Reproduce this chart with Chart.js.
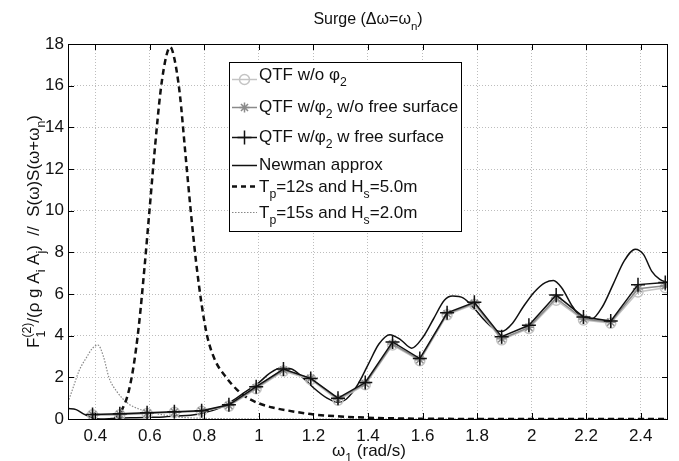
<!DOCTYPE html>
<html>
<head>
<meta charset="utf-8">
<script src="https://cdn.jsdelivr.net/npm/chart.js@4.4.1/dist/chart.umd.min.js"></script>
<style>
  body { margin: 0; background: #fff; }
  canvas { display: block; }
</style>
</head>
<body>
<canvas id="grafico" width="679" height="461"></canvas>
<script>
// --- Datos ---
const xTicks = [0.4, 0.6, 0.8, 1.0, 1.2, 1.4, 1.6, 1.8, 2.0, 2.2, 2.4];
const yTicks = [0, 2, 4, 6, 8, 10, 12, 14, 16, 18];

// frecuencias de los puntos QTF
const w1 = [0.39, 0.49, 0.59, 0.69, 0.79, 0.89, 0.99, 1.09, 1.19, 1.29, 1.39,
            1.49, 1.59, 1.69, 1.79, 1.89, 1.99, 2.09, 2.19, 2.29, 2.39, 2.49];
const qtfSinPhi = [0.2, 0.2, 0.27, 0.32, 0.37, 0.62, 1.45, 2.3, 1.9, 0.9, 1.65,
                   3.55, 2.8, 5.0, 5.5, 3.8, 4.35, 5.7, 4.75, 4.6, 6.1, 6.3];
const qtfPhiSinSup = [0.2, 0.22, 0.28, 0.33, 0.38, 0.65, 1.5, 2.35, 1.95, 0.95, 1.7,
                      3.6, 2.85, 5.05, 5.55, 3.85, 4.4, 5.8, 4.8, 4.65, 6.25, 6.4];
const qtfPhiSup = [0.22, 0.25, 0.3, 0.35, 0.4, 0.68, 1.55, 2.4, 1.95, 1.0, 1.75,
                   3.7, 2.9, 5.1, 5.6, 3.95, 4.5, 5.95, 4.9, 4.7, 6.45, 6.55];

// aproximacion de Newman
const wNewman = [0.30, 0.33, 0.36, 0.39, 0.42, 0.46, 0.50, 0.55, 0.60, 0.65, 0.70, 0.75,
                 0.80, 0.85, 0.90, 0.95, 1.00, 1.04, 1.08, 1.12, 1.16, 1.20, 1.25, 1.29,
                 1.32, 1.36, 1.40, 1.44, 1.48, 1.52, 1.56, 1.60, 1.64, 1.68, 1.71, 1.75,
                 1.79, 1.83, 1.87, 1.89, 1.93, 1.97, 2.01, 2.05, 2.08, 2.11, 2.15, 2.19,
                 2.22, 2.26, 2.30, 2.34, 2.38, 2.41, 2.44, 2.47, 2.50];
const newman = [0.5, 0.45, 0.22, 0.05, 0.0, 0.02, 0.05, 0.06, 0.08, 0.1, 0.14, 0.18,
                0.3, 0.5, 0.85, 1.3, 1.75, 2.2, 2.45, 2.4, 2.0, 1.5, 1.0, 0.8,
                0.95, 1.6, 2.6, 3.6, 4.05, 3.8, 3.4, 3.9, 4.8, 5.7, 5.9, 5.8,
                5.3, 4.7, 4.25, 4.2, 4.6, 5.4, 6.1, 6.55, 6.65, 6.3, 5.4, 4.8,
                4.8, 5.4, 6.5, 7.6, 8.15, 7.9, 7.1, 6.7, 6.55];

// espectro Tp=12s, Hs=5.0m
const wTp12 = [0.47, 0.50, 0.52, 0.54, 0.56, 0.58, 0.60, 0.62, 0.64, 0.66, 0.675, 0.69,
               0.71, 0.73, 0.75, 0.77, 0.79, 0.81, 0.84, 0.88, 0.92, 0.96, 1.00, 1.05,
               1.10, 1.20, 1.30, 1.40, 1.50, 1.60, 1.80, 2.50];
const espTp12 = [0, 0.5, 1.2, 2.5, 4.5, 7.2, 10.2, 13.2, 15.8, 17.4, 17.85, 17.3,
                 15.6, 12.8, 10.0, 7.5, 5.5, 4.0, 2.8, 2.0, 1.4, 1.0, 0.75, 0.55,
                 0.42, 0.22, 0.12, 0.06, 0.03, 0.01, 0.005, 0];

// espectro Tp=15s, Hs=2.0m
const wTp15 = [0.30, 0.32, 0.34, 0.37, 0.39, 0.41, 0.43, 0.45, 0.48, 0.52, 0.56,
               0.61, 0.65, 0.70, 0.80, 0.90, 1.00, 2.50];
const espTp15 = [0.8, 1.55, 2.3, 3.0, 3.4, 3.55, 3.0, 2.0, 1.3, 0.75, 0.48,
                 0.3, 0.2, 0.1, 0.03, 0.01, 0, 0];

const FONT = "'Liberation Sans', Arial, sans-serif";
const pares = (xs, ys) => xs.map((x, i) => ({ x: x, y: ys[i] }));

// --- Texto con subindices / superindices ---
function anchoSeg(ctx, s, size) {
  const small = size * 0.72;
  if (s.t === undefined) {
    ctx.font = small + "px " + FONT;
    return Math.max(s.sub ? ctx.measureText(s.sub).width : 0,
                    s.sup ? ctx.measureText(s.sup).width : 0);
  }
  ctx.font = (s.small ? small : size) + "px " + FONT;
  return ctx.measureText(s.t).width;
}

function textoRico(ctx, segs, x, y, size, align) {
  const small = size * 0.72;
  const lista = segs.map(s => (s.sub === true ? { t: s.t, small: true, dy: size * 0.36 } : s));
  let total = 0;
  lista.forEach(s => { total += anchoSeg(ctx, s, size); });
  let cx = x;
  if (align === "center") cx = x - total / 2;
  ctx.textAlign = "left";
  ctx.textBaseline = "alphabetic";
  lista.forEach(s => {
    const w = anchoSeg(ctx, s, size);
    if (s.t === undefined) {
      ctx.font = small + "px " + FONT;
      if (s.sub) ctx.fillText(s.sub, cx, y + size * 0.36);
      if (s.sup) ctx.fillText(s.sup, cx, y - size * 0.45);
    } else {
      ctx.font = (s.small ? small : size) + "px " + FONT;
      ctx.fillText(s.t, cx, y + (s.dy || 0));
    }
    cx += w;
  });
}

const titulo = [{ t: "Surge (\u0394\u03c9=\u03c9" }, { t: "n", sub: true }, { t: ")" }];
const tituloX = [{ t: "\u03c9" }, { t: "1", sub: true }, { t: " (rad/s)" }];
const tituloY = [{ t: "F" }, { sub: "1", sup: "(2)" }, { t: "/(\u03c1 g A" }, { t: "i", sub: true },
                 { t: " A" }, { t: "j", sub: true }, { t: ")  //  S(\u03c9)S(\u03c9+\u03c9" },
                 { t: "n", sub: true }, { t: ")" }];

const leyenda = [
  { texto: [{ t: "QTF w/o \u03c6" }, { t: "2", sub: true }], base: 80, linea: 79, tipo: "circulo" },
  { texto: [{ t: "QTF w/\u03c6" }, { t: "2", sub: true }, { t: " w/o free surface" }], base: 112, linea: 107, tipo: "estrella" },
  { texto: [{ t: "QTF w/\u03c6" }, { t: "2", sub: true }, { t: " w free surface" }], base: 142, linea: 137, tipo: "cruz" },
  { texto: [{ t: "Newman approx" }], base: 170, linea: 165, tipo: "linea" },
  { texto: [{ t: "T" }, { t: "p", sub: true }, { t: "=12s and H" }, { t: "s", sub: true }, { t: "=5.0m" }], base: 192, linea: 186, tipo: "guiones" },
  { texto: [{ t: "T" }, { t: "p", sub: true }, { t: "=15s and H" }, { t: "s", sub: true }, { t: "=2.0m" }], base: 218, linea: 212, tipo: "puntos" }
];

// --- Plugin: marco, marcas, titulos y leyenda ---
const decoracion = {
  id: "decoracion",
  afterDraw(chart) {
    const ctx = chart.ctx;
    const a = chart.chartArea;
    const sx = chart.scales.x, sy = chart.scales.y;
    ctx.save();
    // marco
    ctx.strokeStyle = "#000";
    ctx.lineWidth = 1;
    ctx.setLineDash([]);
    ctx.strokeRect(a.left + 0.5, a.top + 0.5, a.right - a.left - 1, a.bottom - a.top);
    // marcas hacia adentro
    ctx.beginPath();
    xTicks.forEach(v => {
      const px = Math.round(sx.getPixelForValue(v)) + 0.5;
      ctx.moveTo(px, a.bottom); ctx.lineTo(px, a.bottom - 6);
      ctx.moveTo(px, a.top); ctx.lineTo(px, a.top + 6);
    });
    yTicks.forEach(v => {
      const py = Math.round(sy.getPixelForValue(v)) + 0.5;
      ctx.moveTo(a.left, py); ctx.lineTo(a.left + 6, py);
      ctx.moveTo(a.right, py); ctx.lineTo(a.right - 6, py);
    });
    ctx.stroke();

    ctx.fillStyle = "#111";
    textoRico(ctx, titulo, (a.left + a.right) / 2, 24, 16, "center");
    textoRico(ctx, tituloX, (a.left + a.right) / 2 + 1, 456, 17, "center");
    ctx.save();
    ctx.translate(39, (a.top + a.bottom) / 2);
    ctx.rotate(-Math.PI / 2);
    textoRico(ctx, tituloY, 0, 0, 17, "center");
    ctx.restore();

    // leyenda
    const L = { x: 229, y: 62, w: 232, h: 169 };
    ctx.fillStyle = "#fff";
    ctx.fillRect(L.x, L.y, L.w, L.h);
    ctx.strokeStyle = "#000";
    ctx.lineWidth = 1;
    ctx.strokeRect(L.x + 0.5, L.y + 0.5, L.w, L.h);
    leyenda.forEach(e => {
      const y0 = e.linea + 0.5;
      ctx.save();
      ctx.beginPath();
      ctx.moveTo(232, y0); ctx.lineTo(257, y0);
      if (e.tipo === "circulo") { ctx.strokeStyle = "#c4c4c4"; ctx.lineWidth = 1.5; }
      else if (e.tipo === "estrella") { ctx.strokeStyle = "#8a8a8a"; ctx.lineWidth = 1.5; }
      else if (e.tipo === "guiones") { ctx.strokeStyle = "#111"; ctx.lineWidth = 2.5; ctx.setLineDash([5, 4]); }
      else if (e.tipo === "puntos") { ctx.strokeStyle = "#888"; ctx.lineWidth = 1.2; ctx.setLineDash([1.5, 1.5]); }
      else { ctx.strokeStyle = "#111"; ctx.lineWidth = 1.5; }
      ctx.stroke();
      ctx.setLineDash([]);
      const cx = 244.5;
      if (e.tipo === "circulo") {
        ctx.beginPath(); ctx.arc(cx, y0, 5, 0, Math.PI * 2); ctx.stroke();
      } else if (e.tipo === "estrella") {
        ctx.beginPath();
        for (let k = 0; k < 4; k++) {
          const ang = k * Math.PI / 4;
          ctx.moveTo(cx - 5 * Math.cos(ang), y0 - 5 * Math.sin(ang));
          ctx.lineTo(cx + 5 * Math.cos(ang), y0 + 5 * Math.sin(ang));
        }
        ctx.stroke();
      } else if (e.tipo === "cruz") {
        ctx.beginPath();
        ctx.moveTo(cx - 7, y0); ctx.lineTo(cx + 7, y0);
        ctx.moveTo(cx, y0 - 7); ctx.lineTo(cx, y0 + 7);
        ctx.stroke();
      }
      ctx.restore();
      ctx.fillStyle = "#111";
      textoRico(ctx, e.texto, 259, e.base, 17, "left");
    });
    ctx.restore();
  }
};

const ctx = document.getElementById("grafico").getContext("2d");
new Chart(ctx, {
  type: "line",
  data: {
    datasets: [
      {
        label: "QTF w/phi2 w free surface",
        data: pares(w1, qtfPhiSup),
        borderColor: "#111", backgroundColor: "#111", borderWidth: 1.5,
        pointStyle: "cross", pointRadius: 7, pointBorderWidth: 1.5, tension: 0
      },
      {
        label: "QTF w/phi2 w/o free surface",
        data: pares(w1, qtfPhiSinSup),
        borderColor: "#8a8a8a", backgroundColor: "#8a8a8a", borderWidth: 1.5,
        pointStyle: "star", pointRadius: 5, pointBorderWidth: 1.5, tension: 0
      },
      {
        label: "QTF w/o phi2",
        data: pares(w1, qtfSinPhi),
        borderColor: "#c4c4c4", backgroundColor: "rgba(0,0,0,0)", borderWidth: 1.5,
        pointStyle: "circle", pointRadius: 5, pointBorderWidth: 1.5, tension: 0
      },
      {
        label: "Newman approx",
        data: pares(wNewman, newman),
        borderColor: "#111", borderWidth: 1.5, pointRadius: 0,
        cubicInterpolationMode: "monotone"
      },
      {
        label: "Tp=12s Hs=5.0m",
        data: pares(wTp12, espTp12),
        borderColor: "#111", borderWidth: 2.5, borderDash: [6, 4], pointRadius: 0,
        cubicInterpolationMode: "monotone"
      },
      {
        label: "Tp=15s Hs=2.0m",
        data: pares(wTp15, espTp15),
        borderColor: "#888", borderWidth: 1.2, borderDash: [1.5, 1.5], pointRadius: 0,
        cubicInterpolationMode: "monotone"
      }
    ]
  },
  options: {
    responsive: false,
    animation: false,
    devicePixelRatio: 1,
    layout: { padding: { top: 44, right: 11, left: 0, bottom: 0 } },
    plugins: { legend: { display: false }, tooltip: { enabled: false } },
    scales: {
      x: {
        type: "linear", min: 0.3, max: 2.5,
        afterBuildTicks: s => { s.ticks = xTicks.map(v => ({ value: v })); },
        afterFit: s => { s.height = 42; },
        ticks: {
          callback: v => String(+v.toFixed(1)),
          font: { family: FONT, size: 17 }, color: "#111", padding: 7, maxRotation: 0
        },
        grid: { color: "#bdbdbd", drawTicks: false, lineWidth: 1 },
        border: { display: false, dash: [1, 2] }
      },
      y: {
        min: 0, max: 18,
        afterBuildTicks: s => { s.ticks = yTicks.map(v => ({ value: v })); },
        afterFit: s => { s.width = 68; },
        ticks: { font: { family: FONT, size: 17 }, color: "#111", padding: 4 },
        grid: { color: "#bdbdbd", drawTicks: false, lineWidth: 1 },
        border: { display: false, dash: [1, 2] }
      }
    }
  },
  plugins: [decoracion]
});
</script>
</body>
</html>
